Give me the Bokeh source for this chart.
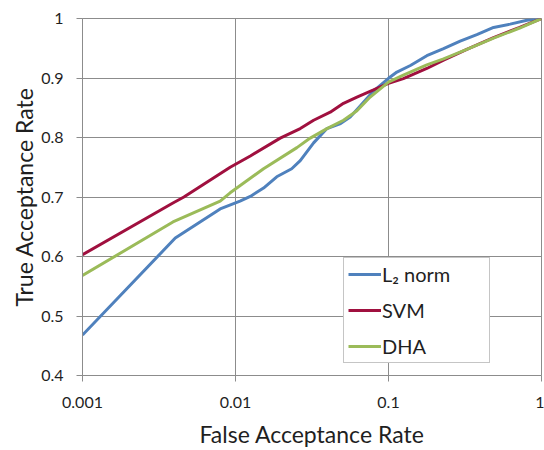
from bokeh.plotting import figure
from bokeh.models import (FixedTicker, CustomJSTickFormatter, Legend, LegendItem,
                          Range1d)
from bokeh.embed import file_html
from bokeh.resources import INLINE

# ---- data ----
l2_far = [0.001, 0.00404, 0.00794, 0.0107, 0.0125, 0.01525, 0.0186, 0.0233, 0.0265,
          0.0324, 0.0396, 0.0486, 0.0562, 0.0653, 0.0798, 0.1, 0.1135, 0.139, 0.178,
          0.229, 0.294, 0.378, 0.486, 0.624, 0.803, 1.0]
l2_tar = [0.468, 0.631, 0.680, 0.693, 0.701, 0.715, 0.734, 0.7475, 0.761,
          0.791, 0.815, 0.8235, 0.8345, 0.853, 0.878, 0.8995, 0.910, 0.921, 0.9375,
          0.9495, 0.962, 0.973, 0.985, 0.9905, 0.997, 1.0]

svm_far = [0.001, 0.0039, 0.0046, 0.00923, 0.0125, 0.0196, 0.0265, 0.0324, 0.0416,
           0.0508, 0.0622, 0.0798, 0.1, 0.125, 0.178, 0.229, 0.325, 0.486, 0.72, 1.0]
svm_tar = [0.603, 0.690, 0.700, 0.750, 0.769, 0.799, 0.815, 0.829, 0.8425,
           0.8575, 0.868, 0.880, 0.891, 0.899, 0.916, 0.930, 0.948, 0.968, 0.985, 1.0]

dha_far = [0.001, 0.0039, 0.00794, 0.00923, 0.01525, 0.0252, 0.0308, 0.0396, 0.0508,
           0.0622, 0.0759, 0.1, 0.125, 0.178, 0.229, 0.325, 0.486, 0.72, 1.0]
dha_tar = [0.568, 0.658, 0.693, 0.707, 0.7475, 0.783, 0.799, 0.815, 0.829,
           0.845, 0.868, 0.893, 0.905, 0.922, 0.932, 0.948, 0.967, 0.984, 1.0]

x_ticks = [0.001, 0.01, 0.1, 1.0]
y_ticks = [0.4, 0.5, 0.6, 0.7, 0.8, 0.9, 1.0]
series_names = ["L\u2082 norm", "SVM", "DHA"]
colors = ["#4F81BD", "#A0103F", "#9BBB59"]

FONT = "Lato"
GRID = "#8c8c8c"
TEXT = "#1f1f1f"

p = figure(width=544, height=450, x_axis_type="log",
           x_range=Range1d(0.001, 1.0), y_range=Range1d(0.4, 1.0),
           output_backend="svg", toolbar_location=None,
           min_border_left=82, min_border_right=3, min_border_top=18,
           min_border_bottom=63)
p.background_fill_color = "white"
p.border_fill_color = "white"
p.outline_line_color = GRID
p.outline_line_width = 1

r1 = p.line(l2_far, l2_tar, line_color=colors[0], line_width=3)
r2 = p.line(svm_far, svm_tar, line_color=colors[1], line_width=3)
r3 = p.line(dha_far, dha_tar, line_color=colors[2], line_width=3)

p.xaxis.ticker = FixedTicker(ticks=x_ticks)
p.yaxis.ticker = FixedTicker(ticks=y_ticks)
p.xaxis.formatter = CustomJSTickFormatter(code="return tick.toString();")
p.yaxis.formatter = CustomJSTickFormatter(code="return Number(tick.toFixed(1)).toString();")

for ax in (p.xaxis, p.yaxis):
    ax.axis_line_color = GRID
    ax.major_tick_line_color = GRID
    ax.minor_tick_line_color = None
    ax.major_tick_out = 6
    ax.major_tick_in = 0
    ax.major_label_text_font = FONT
    ax.major_label_text_font_size = "16px"
    ax.major_label_text_color = TEXT
    ax.axis_label_text_font = FONT
    ax.axis_label_text_font_size = "23px"
    ax.axis_label_text_font_style = "normal"
    ax.axis_label_text_color = TEXT

p.xaxis.axis_label = "False Acceptance Rate"
p.yaxis.axis_label = "True Acceptance Rate"
p.xaxis.major_label_standoff = 15
p.yaxis.major_label_standoff = 13
p.xaxis.axis_label_standoff = 9
p.yaxis.axis_label_standoff = 0

p.grid.grid_line_color = GRID
p.grid.grid_line_width = 1
p.xgrid.ticker = FixedTicker(ticks=x_ticks)
p.ygrid.ticker = FixedTicker(ticks=y_ticks)

legend = Legend(items=[LegendItem(label=series_names[0], renderers=[r1]),
                       LegendItem(label=series_names[1], renderers=[r2]),
                       LegendItem(label=series_names[2], renderers=[r3])],
                location=(261, 12))
legend.label_text_font = FONT
legend.label_text_font_size = "20px"
legend.label_text_color = TEXT
legend.glyph_width = 33
legend.glyph_height = 20
legend.label_height = 20
legend.label_standoff = 1
legend.label_width = 103
legend.spacing = 12
legend.padding = 4
legend.margin = 0
legend.border_line_color = GRID
legend.border_line_width = 1
legend.background_fill_color = "white"
legend.background_fill_alpha = 1.0
p.add_layout(legend, "center")

open("out.html", "w").write(file_html(p, INLINE))
